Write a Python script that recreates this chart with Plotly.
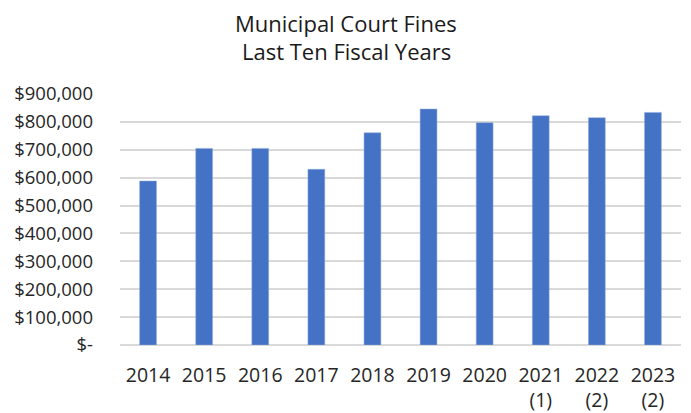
import plotly.graph_objects as go

years = ["2014", "2015", "2016", "2017", "2018", "2019", "2020", "2021<br>(1)", "2022<br>(2)", "2023<br>(2)"]
fines = [588000, 705000, 705000, 630000, 761000, 846000, 797000, 822000, 815000, 834000]
y_tick_vals = [0, 100000, 200000, 300000, 400000, 500000, 600000, 700000, 800000, 900000]
y_tick_text = ["$-", "$100,000", "$200,000", "$300,000", "$400,000", "$500,000",
               "$600,000", "$700,000", "$800,000", "$900,000"]
title_lines = ["Municipal Court Fines", "Last Ten Fiscal Years"]

W, H = 683, 405
L, R, T, B = 112, 10, 86, 68
plot_w = W - L - R
plot_h = H - T - B

fig = go.Figure(go.Bar(x=years, y=fines,
                       marker=dict(color="#4472C4", line=dict(color="#8FAADC", width=0.5)),
                       width=0.3))

fig.update_layout(
    width=W, height=H,
    paper_bgcolor="white", plot_bgcolor="white",
    margin=dict(l=L, r=R, t=T, b=B, autoexpand=False),
    font=dict(family="Open Sans", size=18.5, color="#262626"),
    showlegend=False,
    bargap=0.7,
)
title_x_paper = (338 - L) / plot_w
for line, ypix in zip(title_lines, [15, 43]):
    fig.add_annotation(text=line, xref="paper", yref="paper", x=title_x_paper,
                       y=1 + (T - ypix) / plot_h, xanchor="center", yanchor="middle",
                       showarrow=False, font=dict(family="Open Sans", size=22, color="#1a1a1a"))

fig.update_yaxes(range=[0, 900000], tickvals=y_tick_vals, ticktext=y_tick_text,
                 showgrid=True, gridcolor="#D9D9D9", gridwidth=1.5, zeroline=True,
                 zerolinecolor="#D9D9D9", zerolinewidth=1.5, ticks="", ticklabelstandoff=26,
                 automargin=False)
fig.update_xaxes(showgrid=False, ticks="", showline=False, tickangle=0,
                 tickfont=dict(size=19.5), ticklabelstandoff=16, automargin=False)

fig.write_html("out.html")
